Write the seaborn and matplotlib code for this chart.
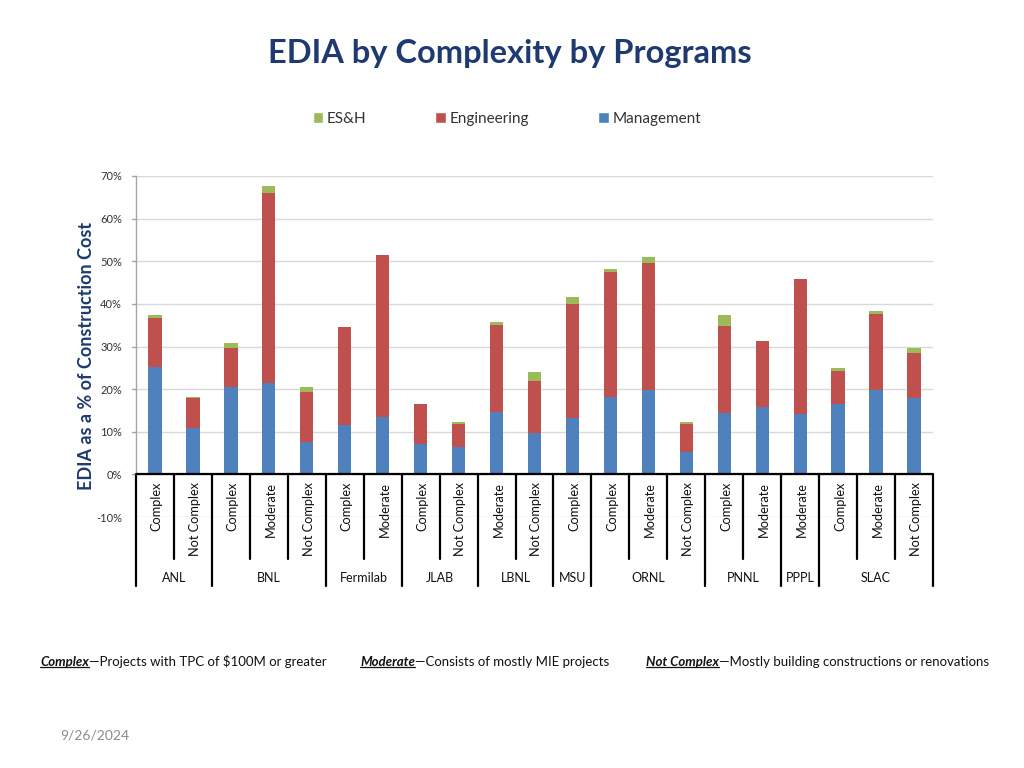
import matplotlib
matplotlib.use("Agg")
import matplotlib.pyplot as plt
import seaborn as sns
import pandas as pd
from matplotlib.patches import Patch
from matplotlib.lines import Line2D
from matplotlib.transforms import blended_transform_factory

# ---------------- data ----------------
programs = ["ANL", "ANL", "BNL", "BNL", "BNL", "Fermilab", "Fermilab", "JLAB", "JLAB",
            "LBNL", "LBNL", "MSU", "ORNL", "ORNL", "ORNL", "PNNL", "PNNL", "PPPL",
            "SLAC", "SLAC", "SLAC"]
complexity = ["Complex", "Not Complex", "Complex", "Moderate", "Not Complex", "Complex",
              "Moderate", "Complex", "Not Complex", "Moderate", "Not Complex", "Complex",
              "Complex", "Moderate", "Not Complex", "Complex", "Moderate", "Moderate",
              "Complex", "Moderate", "Not Complex"]
management = [25.2, 10.9, 20.5, 21.5, 7.6, 11.7, 13.4, 7.1, 6.5, 14.7, 9.7, 13.3,
              18.2, 19.7, 5.3, 14.5, 15.7, 14.1, 16.4, 19.9, 17.9]
engineering = [11.5, 6.95, 9.2, 44.6, 11.8, 22.8, 38.0, 9.5, 5.3, 20.3, 12.1, 26.6,
               29.3, 29.9, 6.5, 20.3, 15.5, 31.7, 7.9, 17.8, 10.6]
esh = [0.8, 0.35, 1.1, 1.5, 1.1, 0.1, 0.0, 0.0, 0.4, 0.8, 2.3, 1.8,
       0.7, 1.3, 0.6, 2.5, 0.0, 0.0, 0.6, 0.7, 1.1]
y_ticks = [-10, 0, 10, 20, 30, 40, 50, 60, 70]
series_names = ["ES&H", "Engineering", "Management"]

C_BLUE, C_RED, C_GREEN = "#4F81BD", "#C0504D", "#9BBB59"
NAVY = "#1F3A70"
FONT = ["Lato", "DejaVu Sans"]

sns.set_theme(style="white")
plt.rcParams["font.family"] = FONT

df = pd.DataFrame({"program": programs, "complexity": complexity,
                   "Management": management, "Engineering": engineering, "ES&H": esh})
df["id"] = df["program"] + " | " + df["complexity"]
df["top_eng"] = df["Management"] + df["Engineering"]
df["total"] = df["top_eng"] + df["ES&H"]
order = list(df["id"])

W, H = 1024, 768
fig = plt.figure(figsize=(W / 100, H / 100), dpi=100)
fig.patch.set_facecolor("white")
ax = fig.add_axes([136 / W, 1 - 517 / H, (933 - 136) / W, (517 - 176) / H])

bw = 0.35
sns.barplot(data=df, x="id", y="total", order=order, color=C_GREEN, saturation=1,
            width=bw, errorbar=None, ax=ax, linewidth=0, zorder=3)
sns.barplot(data=df, x="id", y="top_eng", order=order, color=C_RED, saturation=1,
            width=bw, errorbar=None, ax=ax, linewidth=0, zorder=3)
sns.barplot(data=df, x="id", y="Management", order=order, color=C_BLUE, saturation=1,
            width=bw, errorbar=None, ax=ax, linewidth=0, zorder=3)

ax.set_xlim(-0.5, len(order) - 0.5)
ax.set_ylim(-10, 70)
ax.set_yticks(y_ticks)
ax.set_yticklabels([f"{v}%" for v in y_ticks], fontsize=8, color="#333333")
ax.tick_params(axis="y", length=0, pad=10)
ax.set_xticks([])
ax.set_xlabel("")
ax.set_ylabel("")
ax.grid(axis="y", color="#D9D9D9", linewidth=1, zorder=0)
ax.set_axisbelow(True)
for s in ["top", "right", "bottom"]:
    ax.spines[s].set_visible(False)
ax.spines["left"].set_bounds(0, 70)
ax.spines["left"].set_color("#A6A6A6")
ax.spines["left"].set_linewidth(1)
ax.axhline(0, color="black", linewidth=1.6, zorder=4)
for v in y_ticks[1:]:
    ax.plot([-0.6, -0.5], [v, v], color="#A6A6A6", lw=1, clip_on=False)

# ---------------- category table ----------------
tr = blended_transform_factory(ax.transData, fig.transFigure)
y_axis = 1 - 474 / H
y_short = 1 - 559 / H
y_long = 1 - 586 / H
n = len(order)
for i in range(n + 1):
    x = i - 0.5
    long = i == 0 or i == n or programs[i] != programs[i - 1]
    ax.add_artist(Line2D([x, x], [y_axis, y_long if long else y_short],
                         transform=tr, color="black", lw=1.6, clip_on=False))
for i, c in enumerate(complexity):
    ax.text(i + 0.05, 1 - 482 / H, c, transform=tr, rotation=90, ha="center",
            va="top", fontsize=9.2, color="#111111", clip_on=False)
groups = []
for i, p in enumerate(programs):
    if not groups or groups[-1][0] != p:
        groups.append([p, i, i])
    else:
        groups[-1][2] = i
for p, a, b in groups:
    ax.text((a + b) / 2, 1 - 578 / H, p, transform=tr, ha="center", va="center",
            fontsize=9, color="#111111", clip_on=False)

# ---------------- title, legend, labels ----------------
fig.text(510 / W, 1 - 53 / H, "EDIA by Complexity by Programs", ha="center",
         va="center", fontsize=23.5, fontweight="bold", color=NAVY)
handles = [Patch(facecolor=C_GREEN), Patch(facecolor=C_RED), Patch(facecolor=C_BLUE)]
leg = fig.legend(handles, series_names, loc="center", bbox_to_anchor=(507 / W, 1 - 119 / H),
                 ncol=3, frameon=False, handlelength=0.7, handleheight=0.7,
                 handletextpad=0.25, columnspacing=4.5, fontsize=11)
for t in leg.get_texts():
    t.set_color("#333333")
fig.text(87 / W, 1 - 356 / H, "EDIA as a % of Construction Cost", rotation=90,
         ha="center", va="center", fontsize=13, fontweight="bold", color=NAVY)

fig.text(60 / W, 1 - 735 / H, "9/26/2024", ha="left", va="center", fontsize=10,
         color="#8C8C8C")

# ---------------- footnote ----------------
fig.canvas.draw()
renderer = fig.canvas.get_renderer()


def seq(x0, y, parts):
    x = x0
    for txt, emph in parts:
        t = fig.text(x, y, txt, ha="left", va="center", fontsize=9.5, color="#111111",
                     fontweight="bold" if emph else "normal",
                     fontstyle="italic" if emph else "normal")
        bb = t.get_window_extent(renderer)
        if emph:
            fig.add_artist(Line2D([bb.x0 / W, bb.x1 / W], [(bb.y0 + 1) / H] * 2,
                                  transform=fig.transFigure, color="#111111", lw=0.9))
        x = bb.x1 / W


yf = 1 - 662 / H
seq(40 / W, yf, [("Complex", True), ("\u2014Projects with TPC of $100M or greater", False)])
seq(360 / W, yf, [("Moderate", True), ("\u2014Consists of mostly MIE projects", False)])
seq(646 / W, yf, [("Not Complex", True),
                  ("\u2014Mostly building constructions or renovations", False)])

fig.savefig("out.png", dpi=100, facecolor="white")
